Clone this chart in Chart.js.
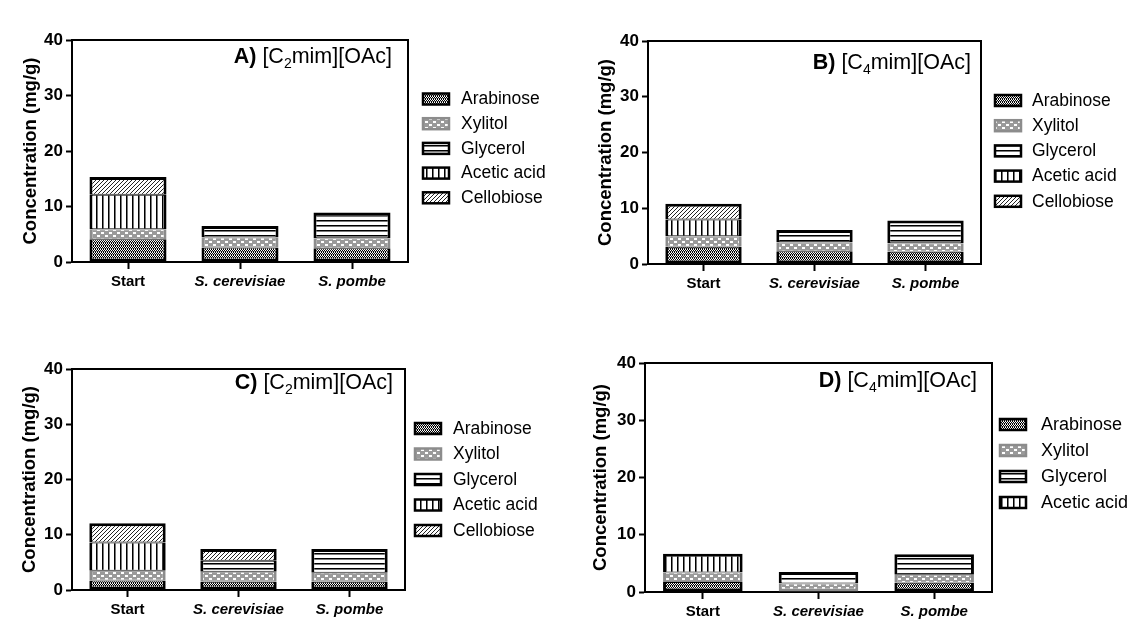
<!DOCTYPE html>
<html>
<head>
<meta charset="utf-8">
<script src="https://cdn.jsdelivr.net/npm/chart.js@4.4.1/dist/chart.umd.min.js"></script>
<style>
  html, body { margin: 0; padding: 0; background: #fff; }
  #wrap { position: relative; width: 1138px; height: 626px; overflow: hidden; }
  canvas { position: absolute; }
</style>
</head>
<body>
<div id="wrap">
  <canvas id="chartA" width="569" height="313" style="left:0;top:0"></canvas>
  <canvas id="chartB" width="569" height="313" style="left:569px;top:0"></canvas>
  <canvas id="chartC" width="569" height="313" style="left:0;top:313px"></canvas>
  <canvas id="chartD" width="569" height="313" style="left:569px;top:313px"></canvas>
</div>
<script>
// data (mg/g)
const categories = ['Start', 'S. cerevisiae', 'S. pombe'];
const seriesNames = ['Arabinose', 'Xylitol', 'Glycerol', 'Acetic acid', 'Cellobiose'];
const yMax = 40;
const yStep = 10;

const arabinoseA  = [4.1, 2.6, 2.5];
const xylitolA    = [1.8, 1.8, 1.8];
const glycerolA   = [0, 2.1, 4.6];
const aceticA     = [6.2, 0, 0];
const cellobioseA = [3.2, 0, 0];

const arabinoseB  = [3.1, 2.3, 2.2];
const xylitolB    = [1.9, 1.6, 1.5];
const glycerolB   = [0, 2.2, 4.1];
const aceticB     = [3.0, 0, 0];
const cellobioseB = [2.8, 0, 0];

const arabinoseC  = [1.7, 1.5, 1.5];
const xylitolC    = [1.8, 1.8, 1.6];
const glycerolC   = [0, 2.0, 4.3];
const aceticC     = [5.1, 0, 0];
const cellobioseC = [3.5, 2.1, 0];

const arabinoseD  = [1.75, 0, 1.6];
const xylitolD    = [1.65, 1.5, 1.4];
const glycerolD   = [0, 2.0, 3.6];
const aceticD     = [3.3, 0, 0];

const FONT = 'Arial, "Liberation Sans", Helvetica, sans-serif';

// fill patterns
function makePattern(w, h, draw) {
    const c = document.createElement('canvas');
    c.width = w;
    c.height = h;
    const g = c.getContext('2d');
    draw(g);
    return g.createPattern(c, 'repeat');
}

const seriesPatterns = [
    makePattern(4, 3, g => { // arabinose: fine checker
        g.fillStyle = '#000'; g.fillRect(0, 0, 4, 3);
        g.fillStyle = '#fff';
        g.fillRect(0, 0, 1, 1); g.fillRect(2, 0, 1, 1);
        g.fillRect(1, 1, 1, 1); g.fillRect(3, 1, 1, 1);
        g.fillStyle = '#bbb'; g.fillRect(0, 2, 1, 1); g.fillRect(2, 2, 1, 1);
    }),
    makePattern(8, 6, g => { // xylitol: grey with white dashes
        g.fillStyle = '#9a9a9a'; g.fillRect(0, 0, 8, 6);
        g.fillStyle = '#fff'; g.fillRect(1, 1, 3, 2); g.fillRect(5, 4, 3, 2);
    }),
    makePattern(4, 5, g => { // glycerol: horizontal lines
        g.fillStyle = '#fff'; g.fillRect(0, 0, 4, 5);
        g.fillStyle = '#000'; g.fillRect(0, 0, 4, 1);
        g.fillStyle = '#777'; g.fillRect(0, 1, 4, 1);
    }),
    makePattern(6, 4, g => { // acetic acid: vertical lines
        g.fillStyle = '#fff'; g.fillRect(0, 0, 6, 4);
        g.fillStyle = '#000'; g.fillRect(0, 0, 1, 4);
        g.fillStyle = '#777'; g.fillRect(1, 0, 1, 4);
    }),
    makePattern(4, 4, g => { // cellobiose: diagonal hatch
        g.fillStyle = '#fff'; g.fillRect(0, 0, 4, 4);
        g.fillStyle = '#222';
        g.fillRect(3, 0, 1, 1); g.fillRect(2, 1, 1, 1); g.fillRect(1, 2, 1, 1); g.fillRect(0, 3, 1, 1);
    })
];
const seriesBorders = ['#000', '#8c8c8c', '#000', '#000', '#000'];

// thick outline round the whole stack, thin lines between segments
function segmentBorder(ctx) {
    const ds = ctx.chart.data.datasets;
    const i = ctx.dataIndex, k = ctx.datasetIndex;
    let first = true, last = true;
    for (let j = 0; j < k; j++) if (ds[j].data[i] > 0) first = false;
    for (let j = k + 1; j < ds.length; j++) if (ds[j].data[i] > 0) last = false;
    return { left: 3, right: 3, top: last ? 3 : 1, bottom: first ? 3 : 1 };
}

function buildDatasets(values) {
    return values.map((data, k) => ({
        label: seriesNames[k],
        data: data,
        backgroundColor: seriesPatterns[k],
        borderColor: seriesBorders[k],
        borderWidth: segmentBorder,
        borderSkipped: false,
        inflateAmount: 0,
        categoryPercentage: 0.8,
        barPercentage: 0.86
    }));
}

// frame, panel heading and legend
const decorPlugin = {
    id: 'decor',
    afterDraw(chart, args, opts) {
        const { ctx, chartArea: a } = chart;
        ctx.save();
        ctx.strokeStyle = '#000';
        ctx.lineWidth = 2;
        ctx.beginPath();
        ctx.moveTo(a.left, a.top);
        ctx.lineTo(a.right, a.top);
        ctx.lineTo(a.right, a.bottom);
        ctx.stroke();

        // heading like "A) [C2mim][OAc]"
        const parts = [
            { t: opts.letter + ')', f: 'bold 21.5px ' + FONT, dy: 0 },
            { t: ' [C', f: '21.5px ' + FONT, dy: 0 },
            { t: opts.cation, f: '14px ' + FONT, dy: 5 },
            { t: 'mim][OAc]', f: '21.5px ' + FONT, dy: 0 }
        ];
        let total = 0;
        parts.forEach(p => { ctx.font = p.f; p.w = ctx.measureText(p.t).width; total += p.w; });
        let x = a.right - opts.headRight - total;
        ctx.fillStyle = '#000';
        ctx.textBaseline = 'alphabetic';
        ctx.textAlign = 'left';
        parts.forEach(p => {
            ctx.font = p.f;
            ctx.fillText(p.t, x, a.top + opts.headDown + p.dy);
            x += p.w;
        });

        // legend
        const lg = opts.legend;
        chart.data.datasets.forEach((ds, k) => {
            const y = lg.y + k * lg.gap;
            ctx.fillStyle = ds.backgroundColor;
            ctx.fillRect(lg.x, y - 6, 26, 11);
            ctx.strokeStyle = ds.borderColor;
            ctx.lineWidth = 2.5;
            ctx.strokeRect(lg.x, y - 6, 26, 11);
            ctx.fillStyle = '#000';
            ctx.font = lg.size + 'px ' + FONT;
            ctx.textBaseline = 'middle';
            ctx.fillText(ds.label, lg.x + lg.textGap, y);
        });
        ctx.restore();
    }
};

const panels = [
    { id: 'chartA', letter: 'A', cation: '2',
      values: [arabinoseA, xylitolA, glycerolA, aceticA, cellobioseA],
      plot: { l: 72, t: 40, r: 408, b: 262 }, titleX: 31,
      head: { right: 16, down: 23 },
      legend: { x: 423, y: 99.5, gap: 24.7, size: 17.5, textGap: 38 } },
    { id: 'chartB', letter: 'B', cation: '4',
      values: [arabinoseB, xylitolB, glycerolB, aceticB, cellobioseB],
      plot: { l: 79, t: 41, r: 412, b: 264 }, titleX: 37,
      head: { right: 10, down: 28 },
      legend: { x: 426, y: 101, gap: 25.2, size: 17.5, textGap: 37 } },
    { id: 'chartC', letter: 'C', cation: '2',
      values: [arabinoseC, xylitolC, glycerolC, aceticC, cellobioseC],
      plot: { l: 72, t: 56, r: 405, b: 277 }, titleX: 30,
      head: { right: 12, down: 20 },
      legend: { x: 415, y: 116, gap: 25.5, size: 17.5, textGap: 38 } },
    { id: 'chartD', letter: 'D', cation: '4',
      values: [arabinoseD, xylitolD, glycerolD, aceticD],
      plot: { l: 76, t: 50, r: 423, b: 279 }, titleX: 32,
      head: { right: 15, down: 24 },
      legend: { x: 431, y: 112, gap: 26, size: 18, textGap: 41 } }
];

const X_AXIS_H = 30;
const TITLE_SIZE = 18.5;
const TITLE_LH = 1.2;

panels.forEach(p => {
    const canvas = document.getElementById(p.id);
    const W = canvas.width, H = canvas.height;
    new Chart(canvas.getContext('2d'), {
        type: 'bar',
        data: { labels: categories, datasets: buildDatasets(p.values) },
        plugins: [decorPlugin],
        options: {
            responsive: false,
            animation: false,
            devicePixelRatio: 1,
            layout: {
                padding: { left: 0, top: p.plot.t, right: W - p.plot.r, bottom: H - p.plot.b - X_AXIS_H }
            },
            scales: {
                x: {
                    stacked: true,
                    afterFit: s => { s.height = X_AXIS_H; },
                    grid: { offset: false, drawOnChartArea: false, drawTicks: true, tickLength: 7, tickWidth: 2, tickColor: '#000' },
                    border: { display: true, color: '#000', width: 2 },
                    ticks: {
                        color: '#000',
                        padding: 4,
                        font: ctx => ({ family: FONT, size: 15, weight: 'bold', style: ctx.index > 0 ? 'italic' : 'normal' })
                    }
                },
                y: {
                    stacked: true,
                    min: 0,
                    max: yMax,
                    afterFit: s => { s.width = p.plot.l; },
                    grid: { drawOnChartArea: false, drawTicks: true, tickLength: 6, tickWidth: 2, tickColor: '#000' },
                    border: { display: true, color: '#000', width: 2 },
                    ticks: { stepSize: yStep, color: '#000', padding: 3, font: { family: FONT, size: 17, weight: 'bold' } },
                    title: {
                        display: true,
                        text: 'Concentration (mg/g)',
                        color: '#000',
                        font: { family: FONT, size: TITLE_SIZE, weight: 'bold', lineHeight: TITLE_LH },
                        padding: { top: p.titleX - TITLE_SIZE * TITLE_LH / 2, bottom: 0 }
                    }
                }
            },
            plugins: {
                legend: { display: false },
                tooltip: { enabled: false },
                decor: {
                    letter: p.letter,
                    cation: p.cation,
                    headRight: p.head.right,
                    headDown: p.head.down,
                    legend: p.legend
                }
            }
        }
    });
});
</script>
</body>
</html>
